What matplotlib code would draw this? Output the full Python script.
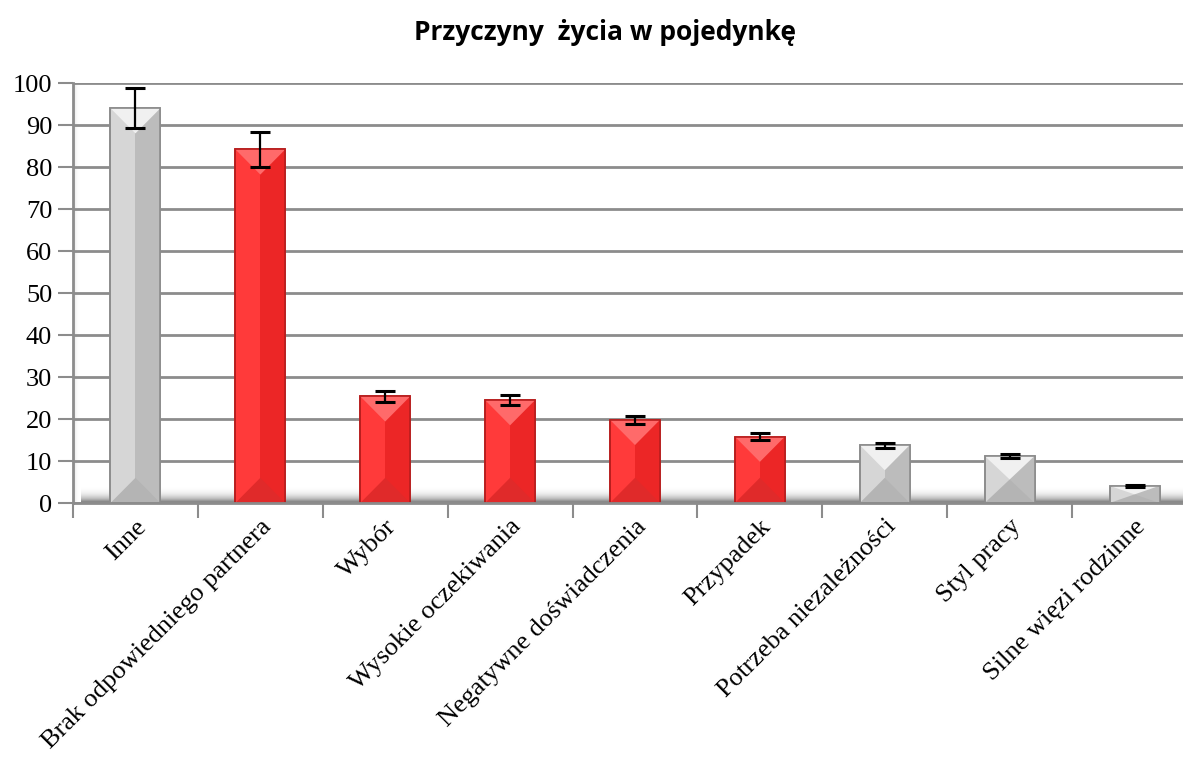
# Przyczyny życia w pojedynkę - bar chart with error bars

import numpy as np
import matplotlib.pyplot as plt
from matplotlib.patches import Polygon

categories = ["Inne", "Brak odpowiedniego partnera", "Wybór", "Wysokie oczekiwania",
              "Negatywne doświadczenia", "Przypadek", "Potrzeba niezależności",
              "Styl pracy", "Silne więzi rodzinne"]
values = [94.0, 84.2, 25.4, 24.5, 19.8, 15.8, 13.8, 11.2, 4.1]
errors = [4.7, 4.2, 1.3, 1.2, 1.0, 0.8, 0.6, 0.5, 0.25]
is_red = [False, True, True, True, True, True, False, False, False]
y_ticks = [0, 10, 20, 30, 40, 50, 60, 70, 80, 90, 100]

red = {"left": "#ff3a3a", "right": "#ec2626", "top": "#ff6a6a", "bottom": "#e02a2a", "edge": "#b81e1e"}
grey = {"left": "#d6d6d6", "right": "#bcbcbc", "top": "#f0f0f0", "bottom": "#b4b4b4", "edge": "#8c8c8c"}

fig = plt.figure(figsize=(11.83, 7.58), dpi=100)
ax = fig.add_axes([73 / 1183, 1 - 503 / 758, 1124 / 1183, 420 / 758])

x = np.arange(len(categories))
width = 0.4

ax.set_xlim(-0.5, len(categories) - 0.5)
ax.set_ylim(0, 100)

# floor and side wall gradients (fake 3D look)
floor = np.linspace(0, 1, 64).reshape(-1, 1)
ax.imshow(floor ** 1.6, cmap="Greys", vmin=0, vmax=1.6, aspect="auto",
          extent=(-0.5, len(categories) - 0.5, 0, 3.8), zorder=0.5, origin="upper")
wall = np.linspace(1, 0, 64).reshape(1, -1)
ax.imshow(wall ** 3, cmap="Greys", vmin=0, vmax=3.0, aspect="auto",
          extent=(-0.5, -0.44, 0, 100), zorder=0.5)

ax.grid(axis="y", color="#8c8c8c", linewidth=2, zorder=1)
ax.set_axisbelow(True)

# bars with a simple bevel
depth = 6.0
for xi, v, r in zip(x, values, is_red):
    c = red if r else grey
    l, rr = xi - width / 2, xi + width / 2
    ax.bar(xi, v, width, color=c["left"], edgecolor=c["edge"], linewidth=1.2, zorder=2)
    ax.add_patch(Polygon([(xi, 0), (rr, 0), (rr, v), (xi, v)], closed=True,
                         facecolor=c["right"], edgecolor="none", zorder=2.1))
    d = min(depth, v / 2)
    ax.add_patch(Polygon([(l, v), (rr, v), (xi, v - d)], closed=True,
                         facecolor=c["top"], edgecolor="none", zorder=2.2))
    ax.add_patch(Polygon([(l, 0), (rr, 0), (xi, d)], closed=True,
                         facecolor=c["bottom"], edgecolor="none", zorder=2.2))
    ax.bar(xi, v, width, facecolor="none", edgecolor=c["edge"], linewidth=1.2, zorder=2.3)

ax.errorbar(x, values, yerr=errors, fmt="none", ecolor="black", elinewidth=1.6,
            capsize=7, capthick=2.2, zorder=3)

ax.set_yticks(y_ticks)
ax.set_yticklabels([str(t) for t in y_ticks], fontsize=19, family="Liberation Serif")
ax.set_xticks(x)
ax.set_xticklabels(categories, rotation=45, ha="right", rotation_mode="anchor",
                   fontsize=19, family="Liberation Serif")
ax.tick_params(axis="x", length=0, pad=9)
ax.tick_params(axis="y", length=11, width=1.5, color="#8c8c8c", pad=4)
ax.set_xticks(np.arange(-0.5, len(categories), 1), minor=True)
ax.tick_params(axis="x", which="minor", length=11, width=1.5, color="#8c8c8c")

for s in ["top", "right"]:
    ax.spines[s].set_visible(False)
ax.spines["left"].set_color("#8c8c8c")
ax.spines["left"].set_linewidth(2)
ax.spines["bottom"].set_color("#8c8c8c")
ax.spines["bottom"].set_linewidth(2)

fig.text(605 / 1183, 1 - 32 / 758, "Przyczyny  życia w pojedynkę", ha="center", va="center",
         fontsize=19, fontweight="bold", family="Open Sans")

fig.savefig("out.png", dpi=100)
